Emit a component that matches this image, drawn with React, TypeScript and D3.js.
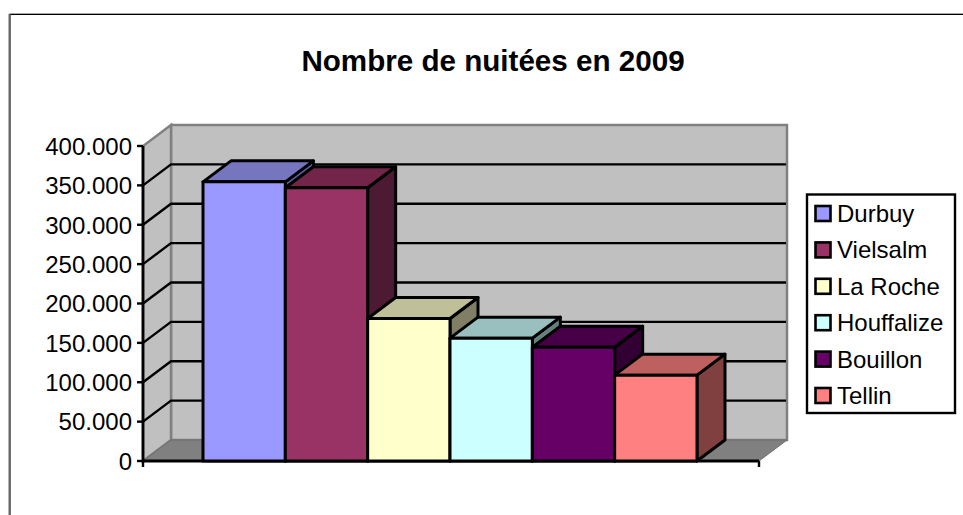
import React from "react";
import * as d3 from "d3";

const title = "Nombre de nuitées en 2009";
const categories = ["Durbuy", "Vielsalm", "La Roche", "Houffalize", "Bouillon", "Tellin"];
const values = [354500, 347000, 181000, 156000, 144500, 109000];
const colors = ["#9999ff", "#993366", "#ffffcc", "#ccffff", "#660066", "#ff8080"];
const topColors = ["#7676bf", "#722549", "#bfbf99", "#99bfbf", "#470047", "#bf6060"];
const sideColors = ["#5f5f9f", "#4d1a33", "#807f66", "#668080", "#330033", "#804040"];
const ticks = [0, 50000, 100000, 150000, 200000, 250000, 300000, 350000, 400000];
const tickLabels = ["0", "50.000", "100.000", "150.000", "200.000", "250.000", "300.000", "350.000", "400.000"];

const font = "'Liberation Sans', Arial, sans-serif";
const x0 = 143, x1 = 759, dx = 28, dy = -21;
const y = d3.scaleLinear().domain([0, 400000]).range([461, 146]);
const x = d3.scaleBand().domain(categories).range([203, 697]).padding(0);
const line = d3.line();

export default function App() {
  const wall = line([[x0 + dx, y(400000) + dy], [x1 + dx, y(400000) + dy], [x1 + dx, y(0) + dy], [x0 + dx, y(0) + dy]]) + "Z";
  const sideWall = line([[x0, y(0)], [x0, y(400000)], [x0 + dx, y(400000) + dy], [x0 + dx, y(0) + dy]]) + "Z";
  const floor = line([[x0, y(0)], [x1, y(0)], [x1 + dx, y(0) + dy], [x0 + dx, y(0) + dy]]) + "Z";
  return (
    <svg width={963} height={515} style={{ position: "fixed", left: 0, top: 0, background: "#fff" }} fontFamily={font}>
      <path d="M9.5 515V13.5H963" fill="none" stroke="#a8a8a8" strokeWidth={1} />
      <path d="M10 515V14.5H963" fill="none" stroke="#000" strokeWidth={1} />
      <path d="M9.5 515V14" fill="none" stroke="#666" strokeWidth={2} />
      <text x={493} y={70.5} textAnchor="middle" fontSize={29.6} fontWeight="bold" fill="#000">{title}</text>

      <path d={wall} fill="#c0c0c0" stroke="#808080" strokeWidth={2.5} />
      <path d={sideWall} fill="#c0c0c0" stroke="#808080" strokeWidth={2.5} />
      <path d={floor} fill="#808080" stroke="#6e6e6e" strokeWidth={1} />

      {ticks.slice(1, -1).map((t) => (
        <path key={t} d={line([[x0, y(t)], [x0 + dx, y(t) + dy], [x1 + dx - 1, y(t) + dy]]) as string} fill="none" stroke="#000" strokeWidth={2.4} />
      ))}

      <path d={`M${x0} ${y(400000)}V${y(0)}H${x1}`} fill="none" stroke="#000" strokeWidth={2.8} />
      {ticks.map((t, i) => (
        <g key={t}>
          <path d={`M${x0 - 6} ${y(t)}H${x0}`} stroke="#000" strokeWidth={2.4} />
          <text x={132} y={y(t) + 8.8} textAnchor="end" fontSize={24} fill="#000">{tickLabels[i]}</text>
        </g>
      ))}
      <path d={`M${x0} ${y(0)}v6M${x1} ${y(0)}v6`} stroke="#000" strokeWidth={2.4} />

      {categories.map((c, i) => {
        const l = x(c) as number, r = l + x.bandwidth(), t = y(values[i]), b = y(0);
        return (
          <g key={c} stroke="#000" strokeWidth={3} strokeLinejoin="round">
            <path d={line([[r, t], [r + dx, t + dy], [r + dx, b + dy], [r, b]]) + "Z"} fill={sideColors[i]} />
            <path d={line([[l, t], [l + dx, t + dy], [r + dx, t + dy], [r, t]]) + "Z"} fill={topColors[i]} />
            <rect x={l} y={t} width={r - l} height={b - t} fill={colors[i]} />
          </g>
        );
      })}

      <rect x={807} y={194.5} width={148} height={218.5} fill="#fff" stroke="#000" strokeWidth={2.4} />
      {categories.map((c, i) => {
        const ly = 213.5 + i * 36.4;
        return (
          <g key={c}>
            <rect x={815.5} y={ly - 7.5} width={15} height={15} fill={colors[i]} stroke="#000" strokeWidth={2.6} />
            <text x={837} y={ly + 8.5} fontSize={24} fill="#000">{c}</text>
          </g>
        );
      })}
    </svg>
  );
}
